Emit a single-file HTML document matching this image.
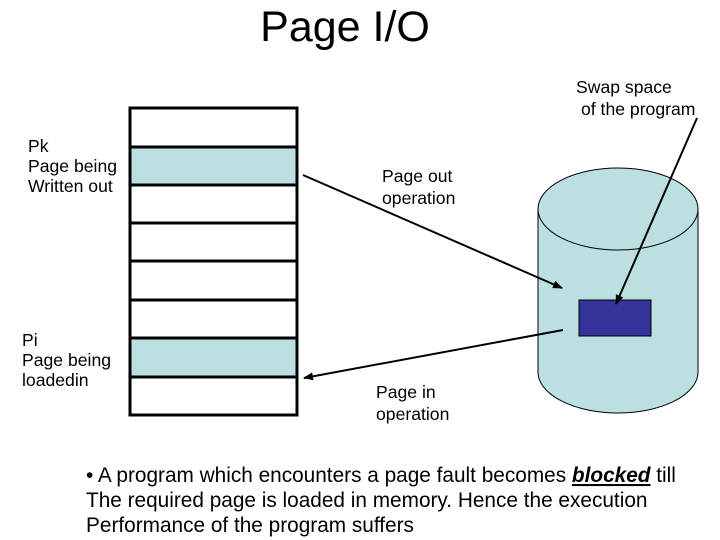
<!DOCTYPE html>
<html><head><meta charset="utf-8"><style>
body{margin:0;background:#fff;}
svg{display:block;font-family:"Liberation Sans",sans-serif;}
</style></head><body>
<svg width="720" height="540" viewBox="0 0 720 540" xmlns="http://www.w3.org/2000/svg">
<defs><marker id="a" markerWidth="10" markerHeight="8" refX="9" refY="4" orient="auto" markerUnits="userSpaceOnUse"><path d="M0,0 L10,4 L0,8 z" fill="#000"/></marker></defs>
<text x="345" y="41" font-size="43" text-anchor="middle">Page I/O</text>
<g stroke="#000" stroke-width="3">
<rect x="130" y="108" width="167" height="307" fill="#fff"/>
<rect x="130" y="147" width="167" height="38" fill="#bcdfe1"/>
<rect x="130" y="338" width="167" height="39" fill="#bcdfe1"/>
<line x1="130" y1="223" x2="297" y2="223"/>
<line x1="130" y1="261" x2="297" y2="261"/>
<line x1="130" y1="300" x2="297" y2="300"/>
</g>
<g fill="#bcdfe1" stroke="#000" stroke-width="1">
<path d="M538,209 L538,372 A80,41 0 0 0 698,372 L698,209 Z"/>
<ellipse cx="618" cy="209" rx="80" ry="41"/>
</g>
<rect x="579" y="300" width="72" height="36" fill="#333399" stroke="#000" stroke-width="1"/>
<g stroke="#000" stroke-width="2" fill="none">
<line x1="303" y1="175" x2="562" y2="288" marker-end="url(#a)"/>
<line x1="563" y1="330" x2="304" y2="378" marker-end="url(#a)"/>
<line x1="697" y1="118" x2="616" y2="304" marker-end="url(#a)"/>
</g>
<g font-size="17.6">
<text x="28" y="152">Pk</text><text x="28" y="172">Page being</text><text x="28" y="192">Written out</text>
<text x="22" y="346">Pi</text><text x="22" y="366">Page being</text><text x="22" y="386">loadedin</text>
<text x="382" y="182">Page out</text><text x="382" y="204">operation</text>
<text x="376" y="398">Page in</text><text x="376" y="420">operation</text>
<text x="576" y="93">Swap space</text><text x="581" y="115">of the program</text>
</g>
<g font-size="20.8">
<text x="86" y="482">• A program which encounters a page fault becomes <tspan font-weight="bold" font-style="italic" text-decoration="underline">blocked</tspan> till</text>
<text x="86" y="507">The required page is loaded in memory. Hence the execution</text>
<text x="86" y="532">Performance of the program suffers</text>
</g>
</svg>
</body></html>
